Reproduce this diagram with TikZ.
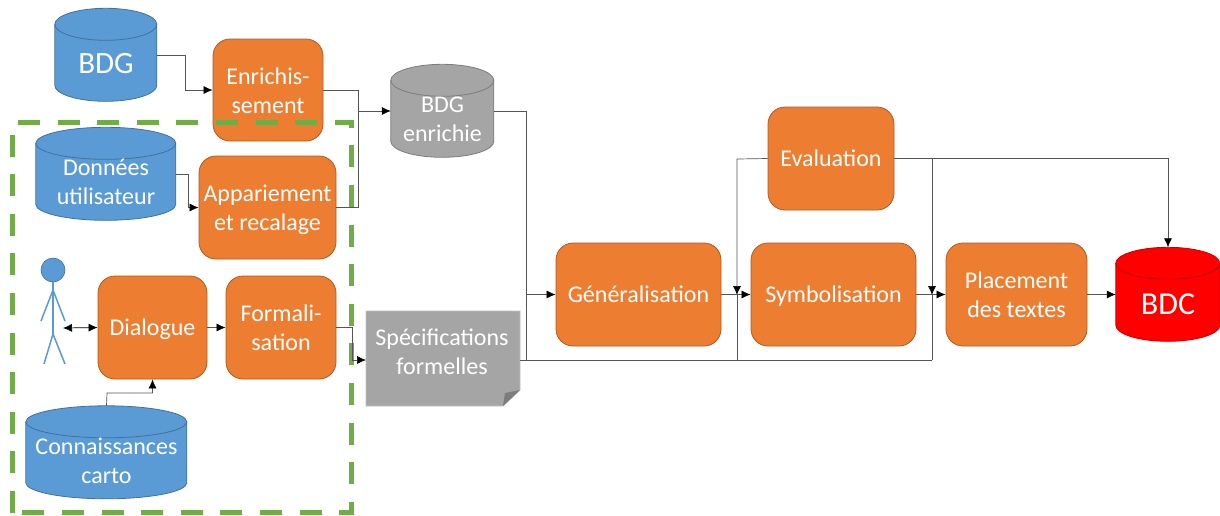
\documentclass[tikz,border=0pt]{standalone}
\usepackage{fontspec}
\setmainfont{Carlito}
\usetikzlibrary{arrows.meta}
\definecolor{cblue}{HTML}{5B9BD5}
\definecolor{cblueb}{HTML}{41719C}
\definecolor{corange}{HTML}{ED7D31}
\definecolor{corangeb}{HTML}{AE5A21}
\definecolor{cgrey}{HTML}{A5A5A5}
\definecolor{cgreyb}{HTML}{7C7C7C}
\definecolor{cgreen}{HTML}{70AD47}
\definecolor{cred}{HTML}{FF0000}
\definecolor{credb}{HTML}{C00000}
\definecolor{cline}{HTML}{555555}
\tikzset{
  txt/.style={text=white,align=center,font=\fontsize{24}{29}\selectfont,inner sep=0pt},
  procbox/.style={txt,rectangle,rounded corners=17pt,fill=corange,draw=corangeb,line width=0.8pt,minimum width=#1},
  procbox/.default=110pt,
  conn/.style={draw=cline,line width=0.7pt,-{Latex[length=9pt,width=8pt,black]}},
  plain/.style={draw=cline,line width=0.7pt},
  stick/.style={draw=cblue,line width=1.5pt},
  dashframe/.style={cgreen,line width=5pt,dash pattern=on 22pt off 17.6pt},
}
\newcommand{\oneline}{\rule[-6.4pt]{0pt}{29.4pt}}
% \mycan{name}{cx}{cy}{w}{h}{ry}{fill}{border}
\newcommand{\mycan}[8]{%
  \node[minimum width=#4pt,minimum height=#5pt,inner sep=0pt] (#1) at (#2,#3) {};
  \path[fill=#7,draw=#8,line width=0.8pt]
    (#1.north west) ++(0,#6) -- ++(0,{#5-2*#6})
    arc[start angle=180,end angle=0,x radius=#4/2,y radius=#6]
    -- ++(0,{-(#5-2*#6)})
    arc[start angle=0,end angle=-180,x radius=#4/2,y radius=#6] -- cycle;
  \path[draw=#8,line width=0.8pt]
    (#1.north west) ++(0,#6)
    arc[start angle=180,end angle=0,x radius=#4/2,y radius=#6];
}
\begin{document}
\begin{tikzpicture}[x=1pt,y=-1pt]
\useasboundingbox (0,0) rectangle (1220,515);
% cylinders
\mycan{bdg}{106}{55}{102}{93}{16}{cblue}{cblueb}
\node[txt,font=\fontsize{31}{36}\selectfont] (bdgt) at (106,64) {BDG};
\mycan{bde}{442.5}{111}{103}{93}{16}{cgrey}{cgreyb}
\node[txt] (bdet) at (442.5,119) {BDG\\enrichie};
\mycan{don}{106}{174}{140}{93}{16}{cblue}{cblueb}
\node[txt] (dont) at (106,182) {Données\\utilisateur};
\mycan{con}{106.5}{452.5}{161}{93}{16}{cblue}{cblueb}
\node[txt] (cont) at (106.5,461) {Connaissances\\carto};
\mycan{bdc}{1168}{294.5}{104}{94}{16}{cred}{credb}
\node[txt,font=\fontsize{32}{36}\selectfont] (bdct) at (1168,304) {BDC};
% process boxes
\node[procbox=110pt,minimum height=102pt] (enr) at (268,90) {\rule{0pt}{19pt}Enrichis-\\sement};
\node[procbox=137pt,minimum height=103pt] (app) at (267.5,207.5) {\rule{0pt}{21pt}Appariement\\et recalage};
\node[procbox=109pt,minimum height=103pt] (dia) at (152.5,327.5) {\oneline Dialogue};
\node[procbox=110pt,minimum height=103pt] (for) at (281,327.5) {Formali-\\sation};
\node[procbox=165pt,minimum height=103pt] (gen) at (638.5,294.5) {\oneline Généralisation};
\node[procbox=165pt,minimum height=103pt] (sym) at (833.5,294.5) {\oneline Symbolisation};
\node[procbox=126pt,minimum height=103pt] (eva) at (831,158.5) {\oneline Evaluation};
\node[procbox=141pt,minimum height=103pt] (pla) at (1016.5,294.5) {Placement\\des textes};
% specification sheet
\fill[cgrey,draw=cgrey!70!white,line width=0.8pt] (366,311) -- (520,311) -- (520,390) -- (503,406) -- (366,406) -- cycle;
\fill[cgrey!75!black] (520,390) -- (505,393) -- (503,406) -- cycle;
\node[txt] (spe) at (442,352) {Spécifications\\formelles};
\coordinate (spein) at (366,360);
\coordinate (speout) at (520,360);
% person
\node[circle,fill=cblue,draw=cblueb,line width=0.6pt,minimum size=24pt,inner sep=0pt] (head) at (53,270) {};
\coordinate (hip) at (53,334);
\coordinate (shoulder) at (53,290);
\draw[stick] (head.south) -- (hip);
\draw[stick] (41,321) -- (shoulder) -- (65,321);
\draw[stick] (44,364) -- (hip) -- (65,364);
\coordinate (pers) at (63,328);
% dashed frame
\draw[dashframe] (18,122) -- (351,122) -- (351,512) -- (12,512);
\draw[dashframe] (12,513) -- (12,122);
% connectors
\coordinate (j1) at (358,111);
\coordinate (j2) at (526,360);
\coordinate (j3) at (737,295);
\coordinate (j4) at (932,295);
\draw[conn] (bdg.east) -- (185,55) |- (enr.west);
\draw[plain] (enr.east) -| (j1);
\draw[plain] (app.east) -| (j1);
\draw[conn] (j1) -- (bde.west);
\draw[conn] (don.east) -- (188,174) |- (app.west);
\draw[draw=black,line width=0.7pt,{Latex[length=9pt,width=8pt]}-{Latex[length=9pt,width=8pt]}] (pers) -- (dia.west);
\draw[conn] (dia.east) -- (for.west);
\draw[conn] (con.north) -- (107,393) -| (dia.south);
\draw[conn] (for.east) -- (352,327.5) |- (spein);
\draw[conn] (bde.east) -- (526,111) |- (gen.west);
\draw[plain] (speout) -- (j2) -- (526,295);
\draw[plain] (j2) -- (932,360);
\draw[conn] (eva.west) -- (737,159) -- (j3);
\draw[plain] (737,360) -- (j3);
\draw[conn] (932,159) -- (j4);
\draw[plain] (932,360) -- (j4);
\draw[conn] (gen.east) -- (sym.west);
\draw[conn] (sym.east) -- (pla.west);
\draw[conn] (pla.east) -- (bdc.west);
\draw[conn] (eva.east) -| (bdc.north);
\end{tikzpicture}
\end{document}
